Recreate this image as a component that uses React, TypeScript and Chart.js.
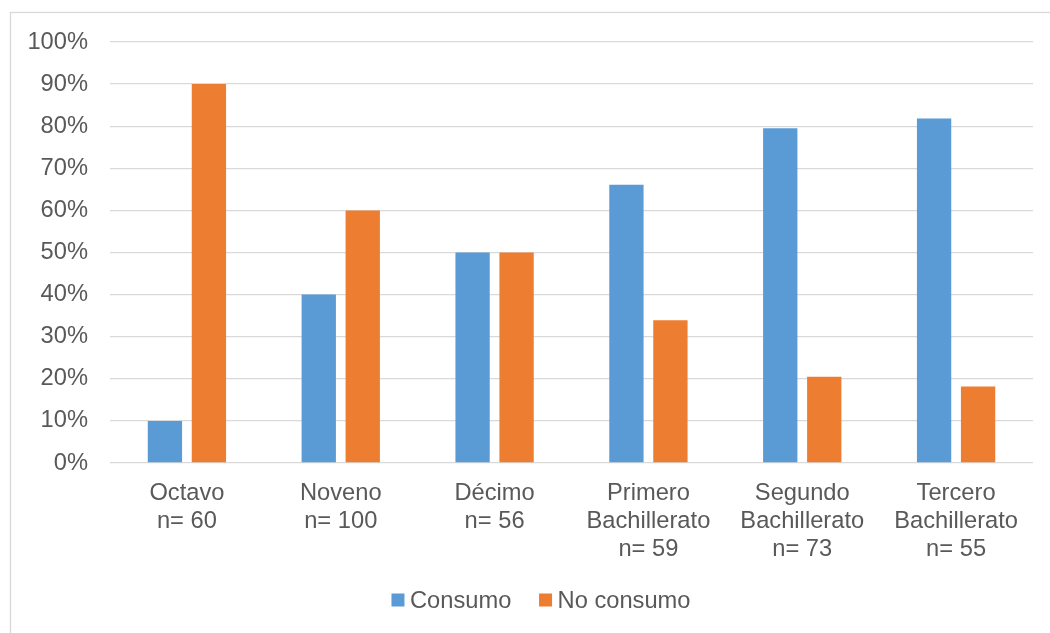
import React, { useEffect, useRef } from "react";
import { Chart, registerables } from "chart.js";

Chart.register(...registerables);

const categories: string[][] = [
  ["Octavo", "n= 60"],
  ["Noveno", "n= 100"],
  ["Décimo", "n= 56"],
  ["Primero", "Bachillerato", "n= 59"],
  ["Segundo", "Bachillerato", "n= 73"],
  ["Tercero", "Bachillerato", "n= 55"],
];

const consumo: number[] = [10, 40, 50, 66.1, 79.5, 81.8];
const noConsumo: number[] = [90, 60, 50, 33.9, 20.5, 18.2];

const yTicks = { min: 0, max: 100, step: 10 };

const TEXT = "#595959";
const GRID = "#d9d9d9";
const FONT = "'Liberation Sans', Arial, sans-serif";
const FONT_SIZE = 23.7;

// Light frame around the whole chart, running off the right and bottom edges
const framePlugin = {
  id: "frame",
  beforeDraw(chart: Chart) {
    const ctx = chart.ctx;
    ctx.save();
    ctx.fillStyle = "#ffffff";
    ctx.fillRect(0, 0, chart.width, chart.height);
    ctx.strokeStyle = GRID;
    ctx.lineWidth = 1.3;
    ctx.strokeRect(10.5, 12.5, 2000, 2000);
    ctx.restore();
  },
};

// Compact legend: small square, tight gap to its text, centred under the plot
const legendPlugin = {
  id: "compactLegend",
  afterDraw(chart: Chart) {
    const ctx = chart.ctx;
    const box = 13;
    const textGap = 5.5;
    const itemGap = 27.7;
    const cy = 600;
    const centerX = 541;
    ctx.save();
    ctx.font = `${FONT_SIZE}px ${FONT}`;
    const items = chart.data.datasets.map((ds: any) => ({
      label: String(ds.label),
      color: String(ds.backgroundColor),
      w: ctx.measureText(String(ds.label)).width,
    }));
    const total =
      items.reduce((s, it) => s + box + textGap + it.w, 0) + itemGap * (items.length - 1);
    let x = centerX - total / 2;
    ctx.textBaseline = "middle";
    ctx.textAlign = "left";
    for (const it of items) {
      ctx.fillStyle = it.color;
      ctx.fillRect(x, cy - box / 2, box, box);
      x += box + textGap;
      ctx.fillStyle = TEXT;
      ctx.fillText(it.label, x, cy + 1);
      x += it.w + itemGap;
    }
    ctx.restore();
  },
};

export default function App() {
  const ref = useRef<HTMLCanvasElement | null>(null);

  useEffect(() => {
    if (!ref.current) return;
    const chart = new Chart(ref.current, {
      type: "bar",
      data: {
        labels: categories,
        datasets: [
          {
            label: "Consumo",
            data: consumo,
            backgroundColor: "#5B9BD5",
            barPercentage: 0.78,
            categoryPercentage: 0.572,
          },
          {
            label: "No consumo",
            data: noConsumo,
            backgroundColor: "#ED7D31",
            barPercentage: 0.78,
            categoryPercentage: 0.572,
          },
        ],
      },
      options: {
        responsive: false,
        animation: false,
        layout: { padding: { left: 0, right: 17, top: 42, bottom: 0 } },
        plugins: {
          tooltip: { enabled: false },
          legend: { display: false },
        },
        scales: {
          x: {
            grid: { display: false },
            border: { display: false },
            ticks: {
              color: TEXT,
              font: { family: FONT, size: FONT_SIZE, lineHeight: 1.17 },
              maxRotation: 0,
              autoSkip: false,
              padding: 9,
            },
            afterFit(scale: any) {
              scale.height = 170;
            },
          },
          y: {
            min: yTicks.min,
            max: yTicks.max,
            grid: { color: GRID, lineWidth: 1.3, drawTicks: false },
            border: { display: false },
            ticks: {
              stepSize: yTicks.step,
              color: TEXT,
              font: { family: FONT, size: FONT_SIZE },
              padding: 22,
              callback: (v: any) => `${v}%`,
            },
            afterFit(scale: any) {
              scale.width = 110;
            },
          },
        },
      },
      plugins: [framePlugin, legendPlugin],
    });
    return () => chart.destroy();
  }, []);

  return (
    <div style={{ position: "absolute", left: 0, top: 0, width: 1050, height: 633 }}>
      <canvas ref={ref} width={1050} height={633} style={{ display: "block" }} />
    </div>
  );
}
